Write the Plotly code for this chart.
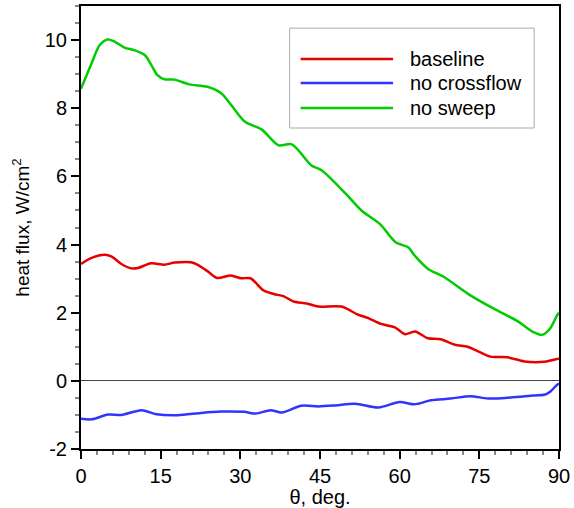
import plotly.graph_objects as go

theta_red = [0, 2, 4.5, 5.7, 7.6, 9.5, 10.7, 13.2, 15.7, 17.6, 20.7, 21.9, 23.8, 25.6, 28.2, 30.1, 31.9,
             34.4, 36.3, 38.2, 40.0, 42.5, 44.7, 49.0, 52.2, 54.1, 56.5, 59.1, 61.0, 62.9, 65.3, 67.7,
             70.4, 72.8, 74.6, 77.1, 80.3, 83.5, 87.2, 89.6, 90]
baseline = [3.43, 3.61, 3.70, 3.65, 3.43, 3.30, 3.31, 3.45, 3.41, 3.47, 3.48, 3.41, 3.22, 3.02, 3.09, 3.01, 3.01,
            2.65, 2.55, 2.48, 2.33, 2.27, 2.18, 2.18, 1.94, 1.84, 1.67, 1.57, 1.37, 1.45, 1.25, 1.22,
            1.06, 1.00, 0.88, 0.71, 0.69, 0.57, 0.56, 0.64, 0.66]

theta_blue = [0, 2, 5.1, 7.6, 11.4, 14.2, 18.2, 22.6, 26.3, 30.7, 32.9, 35.7, 37.8, 41.5, 44.7, 47.9,
              51.6, 56.0, 60.0, 62.8, 65.9, 69.6, 73.4, 76.6, 80.9, 85.3, 87.2, 88.4, 89.6, 90]
no_crossflow = [-1.11, -1.13, -0.99, -1.00, -0.86, -0.98, -1.01, -0.94, -0.90, -0.91, -0.96, -0.86, -0.93,
                -0.73, -0.75, -0.72, -0.67, -0.78, -0.62, -0.69, -0.57, -0.52, -0.45, -0.52, -0.49, -0.43,
                -0.41, -0.31, -0.12, -0.08]

theta_green = [0, 2, 3.5, 5, 6.4, 8.2, 10.1, 12, 13.2, 14.4, 15.7, 17.6, 20.4, 23.8, 26.4, 28.3, 30.9, 34.0,
               37.2, 39.7, 43.4, 45.3, 49.8, 52.8, 56.3, 59.3, 61.6, 62.8, 65.3, 68.4, 73.4, 77.8, 82.1,
               85.3, 86.8, 88.3, 89.6, 90]
no_sweep = [8.57, 9.32, 9.85, 10.02, 9.95, 9.78, 9.70, 9.56, 9.28, 8.97, 8.85, 8.84, 8.70, 8.63, 8.44, 8.09, 7.6,
            7.38, 6.91, 6.94, 6.32, 6.18, 5.50, 5.00, 4.6, 4.06, 3.92, 3.68, 3.29, 3.04, 2.50, 2.11, 1.76,
            1.42, 1.35, 1.53, 1.91, 2.0]

x_ticks = [0, 15, 30, 45, 60, 75, 90]
y_ticks = [-2, 0, 2, 4, 6, 8, 10]
y_ticklabels = ["-2", "0", "2", "4", "6", "8", "10"]

names = ["baseline", "no crossflow", "no sweep"]
colors = ["#e60000", "#3333ff", "#00cc00"]

fig = go.Figure()
for xs, ys, nm, c in [(theta_red, baseline, names[0], colors[0]),
                      (theta_blue, no_crossflow, names[1], colors[1]),
                      (theta_green, no_sweep, names[2], colors[2])]:
    fig.add_trace(go.Scatter(x=xs, y=ys, mode="lines", name=nm,
                             line=dict(color=c, width=2.5, shape="spline", smoothing=0.8),
                             showlegend=False))

font = "Liberation Sans, Arial, sans-serif"
fig.update_layout(
    width=574, height=508,
    margin=dict(l=81, r=12, t=4, b=59),
    plot_bgcolor="white", paper_bgcolor="white",
    font=dict(family=font, size=20, color="black"),
)
fig.update_xaxes(range=[0, 90], tickvals=x_ticks, ticks="outside", ticklen=8, tickwidth=1.5,
                 tickcolor="black", showline=True, linecolor="black", linewidth=2, mirror=True,
                 showgrid=False, zeroline=False,
                 minor=dict(dtick=3, tick0=0, ticks="outside", ticklen=4, tickcolor="#888", showgrid=False),
                 title=dict(text="θ, deg.", font=dict(size=20, family=font, color="black"), standoff=3),
                 tickfont=dict(size=20, family=font, color="black"))
fig.update_yaxes(range=[-2, 11], tickvals=y_ticks, ticktext=y_ticklabels, ticks="outside", ticklen=8,
                 tickwidth=1.5, tickcolor="black", showline=True, linecolor="black", linewidth=2, mirror=True,
                 showgrid=False, zeroline=True, zerolinecolor="#444", zerolinewidth=1,
                 minor=dict(dtick=0.5, tick0=0, ticks="outside", ticklen=4, tickcolor="#888", showgrid=False),
                 title=dict(text="heat flux, W/cm<sup>2</sup>", font=dict(size=19, family=font, color="black"),
                            standoff=10),
                 tickfont=dict(size=20, family=font, color="black"))

# legend box drawn manually
fig.add_shape(type="rect", xref="paper", yref="paper", x0=0.4366, x1=0.948, y0=0.7246, y1=0.950,
              line=dict(color="#aaaaaa", width=1), fillcolor="white")
rows = [0.8804, 0.8262, 0.7698]
for nm, c, yy in zip(names, colors, rows):
    fig.add_shape(type="line", xref="paper", yref="paper", x0=0.4595, x1=0.6528, y0=yy, y1=yy,
                  line=dict(color=c, width=2.5))
    fig.add_annotation(xref="paper", yref="paper", x=0.684, y=yy, text=nm, showarrow=False,
                       xanchor="left", yanchor="middle", font=dict(size=20, family=font, color="black"))

fig.write_html("out.html")
